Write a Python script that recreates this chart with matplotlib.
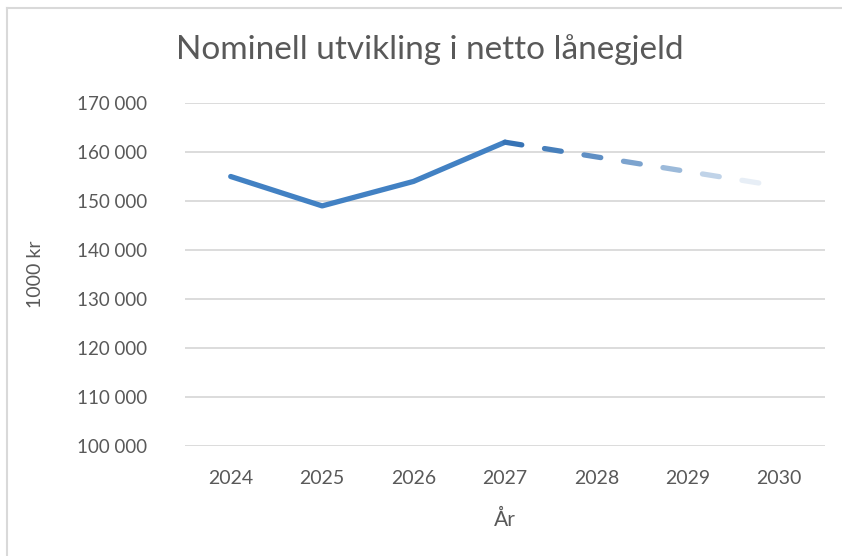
import numpy as np
import matplotlib.pyplot as plt
from matplotlib.colors import to_rgb
from matplotlib.lines import Line2D
from matplotlib.ticker import FuncFormatter

# data
years = ["2024", "2025", "2026", "2027", "2028", "2029", "2030"]
actual = [155000, 149000, 154000, 162000]
forecast = [162000, 159000, 156000, 153000]

plt.rcParams['font.family'] = ['Lato', 'DejaVu Sans']
TEXT = '#595959'

fig = plt.figure(figsize=(8.42, 5.56), dpi=100)
ax = fig.add_axes([185 / 842, 1 - 446 / 556, 640 / 842, 343 / 556])

# chart-area border (only left/top visible in the screenshot)
fig.add_artist(Line2D([7 / 842, 7 / 842], [0, 1 - 8 / 556], color='#d9d9d9', lw=1.5))
fig.add_artist(Line2D([7 / 842, 1], [1 - 8 / 556, 1 - 8 / 556], color='#d9d9d9', lw=1.5))

x = np.arange(len(years))
ax.set_xlim(-0.5, len(years) - 0.5)
ax.set_ylim(100000, 170000)
ax.set_yticks(np.arange(100000, 170001, 10000))
ax.yaxis.set_major_formatter(FuncFormatter(lambda v, p: f"{int(v):,}".replace(",", " ")))
ax.set_xticks(x)
ax.set_xticklabels(years)
ax.grid(axis='y', color='#d9d9d9', lw=1.3)
ax.set_axisbelow(True)
for s in ax.spines.values():
    s.set_visible(False)
ax.tick_params(length=0, colors=TEXT)
ax.tick_params(axis='y', pad=27, labelsize=13.5)
ax.tick_params(axis='x', pad=17, labelsize=14)

line_col = '#4281c3'
ax.plot(x[:len(actual)], actual, color=line_col, lw=3.8, solid_capstyle='round',
        solid_joinstyle='round', zorder=3)

# fading dashed forecast: build dashes in pixel space along the path
fx = x[len(actual) - 1:]
fy = np.array(forecast, dtype=float)
fig.canvas.draw()
pts = ax.transData.transform(np.column_stack([fx, fy]))
seg_len = np.hypot(*np.diff(pts, axis=0).T)
cum = np.concatenate([[0], np.cumsum(seg_len)])
total = cum[-1]


def at(d):
    px = np.interp(d, cum, pts[:, 0])
    py = np.interp(d, cum, pts[:, 1])
    return ax.transData.inverted().transform((px, py))


start_col = np.array(to_rgb('#3572b4'))
end_col = np.array(to_rgb('#ffffff'))
period, dash = 40.0, 17.0
d0 = 0.0
while d0 < total:
    d1 = min(d0 + dash, total)
    ds = np.unique(np.concatenate([[d0, d1], cum[(cum > d0) & (cum < d1)]]))
    xy = np.array([at(d) for d in ds])
    t = min(((d0 + d1) / 2 / total) ** 1.4 * 1.03, 1)
    c = start_col + (end_col - start_col) * t
    ax.plot(xy[:, 0], xy[:, 1], color=c, lw=3.8, solid_capstyle='round', zorder=3)
    d0 += period

ax.set_ylabel("1000 kr", fontsize=14, color=TEXT, labelpad=24)
ax.set_xlabel("År", fontsize=15, color=TEXT, labelpad=17)
fig.text(430 / 842, 1 - 50 / 556, "Nominell utvikling i netto lånegjeld",
         ha='center', va='center', fontsize=24, color=TEXT)

fig.savefig("out.png", dpi=100, facecolor='white')
